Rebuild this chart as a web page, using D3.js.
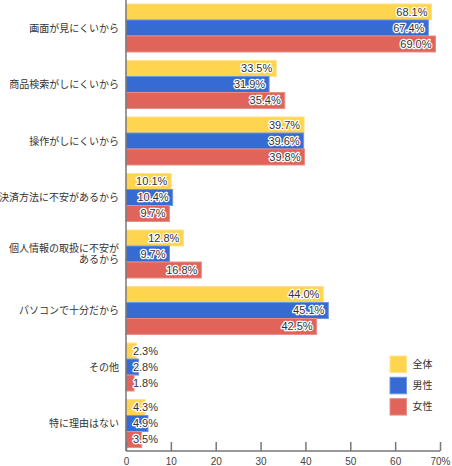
<!DOCTYPE html>
<html><head><meta charset="utf-8">
<script src="https://cdn.jsdelivr.net/npm/d3@7/dist/d3.min.js"></script>
<style>
html,body{margin:0;padding:0;background:#fff;}
svg{display:block;}
</style></head>
<body>
<script>
const categories = [
  ["画面が見にくいから"],
  ["商品検索がしにくいから"],
  ["操作がしにくいから"],
  ["決済方法に不安があるから"],
  ["個人情報の取扱に不安が","あるから"],
  ["パソコンで十分だから"],
  ["その他"],
  ["特に理由はない"]
];
const seriesNames = ["全体","男性","女性"];
const valuesAll    = [68.1, 33.5, 39.7, 10.1, 12.8, 44.0, 2.3, 4.3];
const valuesMale   = [67.4, 31.9, 39.6, 10.4, 9.7, 45.1, 2.8, 4.9];
const valuesFemale = [69.0, 35.4, 39.8, 9.7, 16.8, 42.5, 1.8, 3.5];
const seriesColors = ["#FFD44F","#366BD3","#E0645A"];
const seriesStroke = ["#FFE38A","#6E95E0","#EA8F87"];
const tickValues = [0,10,20,30,40,50,60,70];
const tickLabels = ["0","10","20","30","40","50","60","70%"];

const W = 452, H = 466;
const svg = d3.select("body").append("svg").attr("width", W).attr("height", H);

const x = d3.scaleLinear().domain([0,70]).range([126,440]);
const catKeys = categories.map((c,i)=>i);
const y = d3.scaleBand().domain(catKeys).range([0,451.5]).paddingInner(0.15).paddingOuter(0.07);
const ys = d3.scaleBand().domain([0,1,2]).range([0,y.bandwidth()]);

const series = [valuesAll, valuesMale, valuesFemale];

const g = svg.append("g");
catKeys.forEach(i=>{
  const grp = g.append("g").attr("transform",`translate(0,${y(i)})`);
  series.forEach((vals,s)=>{
    grp.append("rect")
      .attr("x", x(0)).attr("y", ys(s))
      .attr("width", x(vals[i]) - x(0)).attr("height", ys.bandwidth())
      .attr("fill", seriesColors[s])
      .attr("stroke", seriesStroke[s]).attr("stroke-width", 1);
  });
  series.forEach((vals,s)=>{
    const endX = Math.max(x(vals[i]) - 4, 158);
    grp.append("text")
      .attr("x", endX).attr("y", ys(s) + ys.bandwidth()/2)
      .attr("dy","0.36em")
      .attr("text-anchor","end")
      .attr("font-family","'Liberation Sans', Arial, sans-serif")
      .attr("font-size","11px")
      .attr("fill","#333")
      .attr("stroke","#fff").attr("stroke-width",2.5)
      .attr("stroke-linejoin","round")
      .attr("paint-order","stroke")
      .text(vals[i].toFixed(1) + "%");
  });
  // category label
  const lines = categories[i];
  const cy = y(i) + y.bandwidth()/2;
  const lh = 11.5;
  const t = svg.append("text")
    .attr("text-anchor","end")
    .attr("font-family","'Noto Sans CJK JP', sans-serif")
    .attr("font-size","10px")
    .attr("fill","#333");
  lines.forEach((ln,k)=>{
    t.append("tspan").attr("x",119)
      .attr("y", cy + (k - (lines.length-1)/2)*lh)
      .attr("dy","0.36em").text(ln);
  });
});

// axes
svg.append("line").attr("x1",x(0)).attr("x2",x(0)).attr("y1",0).attr("y2",451)
  .attr("stroke","#777").attr("stroke-width",1.5);
svg.append("line").attr("x1",x(0)).attr("x2",x(70)).attr("y1",451).attr("y2",451)
  .attr("stroke","#777").attr("stroke-width",1.5);
const xAxis = d3.axisBottom(x).tickValues(tickValues).tickSize(0)
  .tickFormat((d,i)=>tickLabels[i]);
const ax = svg.append("g").attr("transform","translate(0,451)").call(xAxis);
ax.select(".domain").remove();
ax.selectAll(".tick line").remove();
ax.selectAll(".tick").append("line").attr("y1",0).attr("y2",-9)
  .attr("stroke","#777").attr("stroke-width",1.5);
ax.selectAll(".tick text").attr("y",10).attr("dy","0.36em")
  .attr("font-family","'Liberation Sans', Arial, sans-serif")
  .attr("font-size","10px").attr("fill","#444");

// legend
const lg = svg.append("g").attr("transform","translate(390,356)");
seriesNames.forEach((n,s)=>{
  lg.append("rect").attr("x",0).attr("y",s*21.3).attr("width",16.5).attr("height",16.5)
    .attr("fill",seriesColors[s]).attr("stroke",seriesStroke[s]).attr("stroke-width",1);
  lg.append("text").attr("x",22.5).attr("y",s*21.3+8.25).attr("dy","0.36em")
    .attr("font-family","'Noto Sans CJK JP', sans-serif")
    .attr("font-size","10px").attr("fill","#333").text(n);
});
</script>
</body></html>
